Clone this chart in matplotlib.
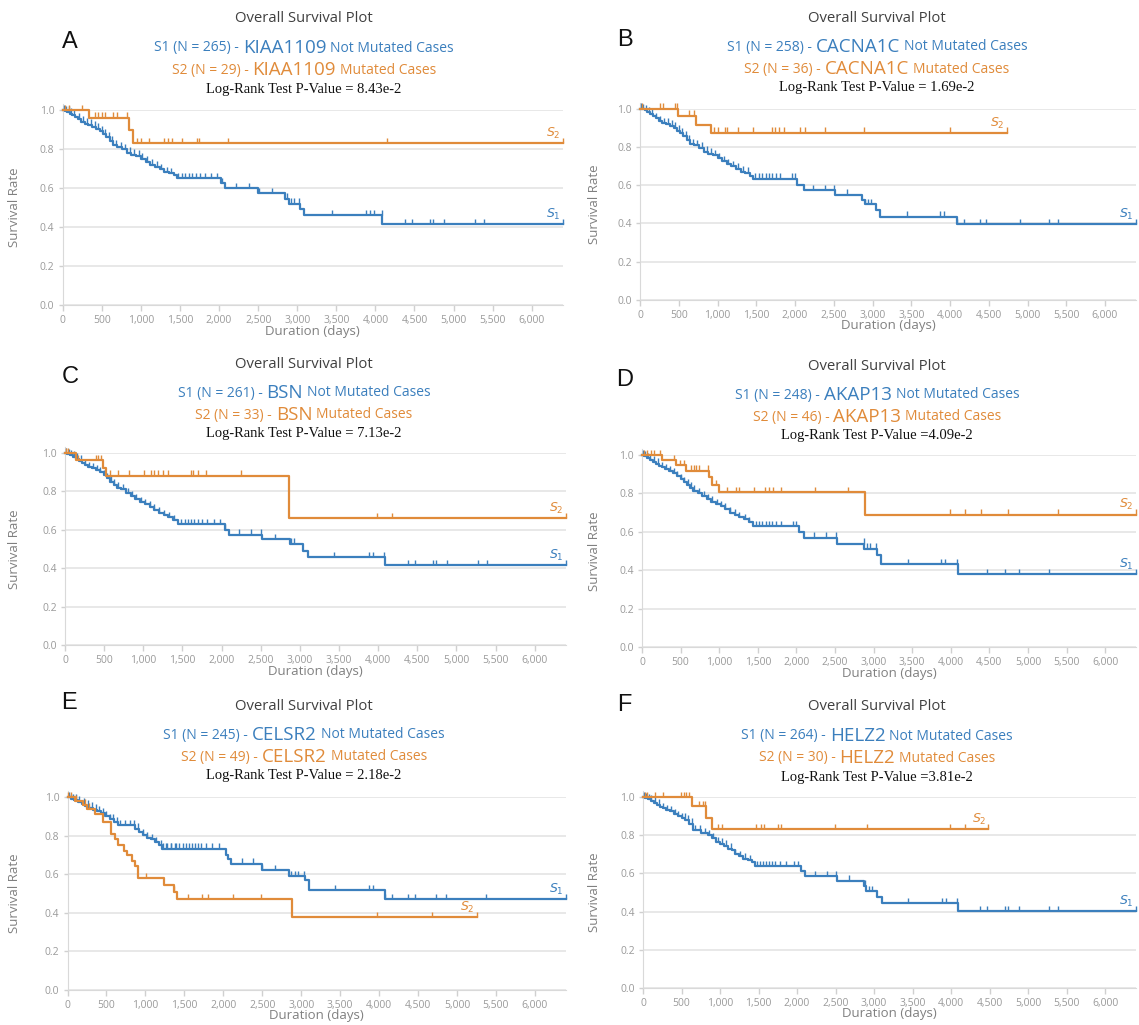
import matplotlib
matplotlib.use("Agg")
import matplotlib.pyplot as plt
import numpy as np

W, H = 1139, 1025
BLUE = "#3b7fbd"
ORANGE = "#e08b3a"
SANS = ["Open Sans", "DejaVu Sans"]

# ---------------- data ----------------
letters = ["A", "B", "C", "D", "E", "F"]
genes = ["KIAA1109", "CACNA1C", "BSN", "AKAP13", "CELSR2", "HELZ2"]
n_s1 = [265, 258, 261, 248, 245, 264]
n_s2 = [29, 36, 33, 46, 49, 30]
pvals = ["= 8.43e-2", "= 1.69e-2", "= 7.13e-2", "=4.09e-2", "= 2.18e-2", "=3.81e-2"]
x_ticks = [0, 500, 1000, 1500, 2000, 2500, 3000, 3500, 4000, 4500, 5000, 5500, 6000]
y_ticks = [0.0, 0.2, 0.4, 0.6, 0.8, 1.0]

early_cens = [15, 45, 75, 110, 150, 210, 260, 310, 360, 410, 450, 500, 540, 590, 630,
              680, 740, 800, 860, 910, 970, 1020, 1080, 1140, 1200, 1260, 1330, 1390]

A_s1_t = [0, 30, 60, 90, 120, 160, 200, 240, 280, 330, 380, 430, 480, 520, 560, 600, 640, 700, 760,
          820, 880, 940, 1000, 1060, 1120, 1180, 1240, 1300, 1360, 1420, 1460, 2030, 2080, 2500,
          2850, 2890, 3030, 3090, 4090]
A_s1_s = [1.0, 0.995, 0.99, 0.98, 0.975, 0.965, 0.955, 0.94, 0.93, 0.925, 0.915, 0.905, 0.89, 0.875,
          0.86, 0.84, 0.82, 0.81, 0.80, 0.78, 0.77, 0.765, 0.75, 0.735, 0.72, 0.71, 0.695, 0.68, 0.675,
          0.665, 0.65, 0.625, 0.598, 0.573, 0.545, 0.52, 0.49, 0.46, 0.415]
A_s1_end = 6400
A_s1_cens = early_cens + [1480, 1530, 1570, 1610, 1650, 1700, 1750, 1820, 1900, 1980, 2040, 2220, 2380,
                          2510, 2680, 2870, 2920, 2960, 3020, 3440, 3880, 3930, 3980, 4080, 4380, 4470,
                          4700, 4740, 4880, 5270, 5390, 6400]
A_s2_t = [0, 342, 851, 902]
A_s2_s = [1.0, 0.96, 0.90, 0.83]
A_s2_end = 6400
A_s2_cens = [30, 80, 250, 410, 455, 500, 540, 640, 690, 820, 950, 1000, 1100, 1300, 1350, 1400,
             1530, 1720, 1745, 2115, 4150, 6400]

B_s1_t = [0, 30, 60, 90, 130, 170, 210, 250, 290, 340, 390, 440, 480, 520, 560, 600, 640, 700, 760,
          820, 880, 940, 1000, 1060, 1120, 1180, 1240, 1300, 1360, 1420, 1460, 2030, 2110, 2520,
          2860, 2900, 3040, 3095, 4090]
B_s1_s = [1.0, 0.995, 0.99, 0.98, 0.97, 0.96, 0.95, 0.935, 0.925, 0.92, 0.91, 0.90, 0.885, 0.87,
          0.855, 0.835, 0.815, 0.81, 0.795, 0.775, 0.765, 0.755, 0.74, 0.725, 0.71, 0.70, 0.685, 0.67,
          0.665, 0.65, 0.633, 0.60, 0.575, 0.55, 0.52, 0.50, 0.47, 0.435, 0.395]
B_s1_end = 6400
B_s1_cens = early_cens + [1480, 1530, 1575, 1620, 1660, 1700, 1750, 1800, 1960, 2000, 2226, 2390,
                          2508, 2672, 2906, 2940, 2980, 3445, 3867, 3923, 4092, 4181, 4383, 4467,
                          4898, 5273, 5390, 6400]
B_s2_t = [0, 492, 717, 914]
B_s2_s = [1.0, 0.963, 0.916, 0.873]
B_s2_end = 4734
B_s2_cens = [23, 258, 295, 455, 483, 633, 703, 961, 1008, 1102, 1125, 1265, 1453, 1702, 1748, 1795,
             1852, 2063, 2123, 2391, 2892, 3998, 4734]

C_s1_t = [0, 30, 60, 100, 140, 180, 220, 260, 300, 350, 400, 450, 500, 540, 580, 620, 660, 720, 780,
          840, 900, 960, 1020, 1080, 1140, 1200, 1260, 1320, 1380, 1440, 2040, 2100, 2520, 2880,
          3040, 3100, 4090]
C_s1_s = [1.0, 0.995, 0.99, 0.98, 0.97, 0.96, 0.95, 0.935, 0.925, 0.92, 0.91, 0.90, 0.885, 0.87,
          0.85, 0.835, 0.82, 0.81, 0.79, 0.775, 0.76, 0.745, 0.735, 0.72, 0.705, 0.69, 0.675, 0.665,
          0.65, 0.63, 0.60, 0.575, 0.55, 0.527, 0.49, 0.457, 0.417]
C_s1_end = 6400
C_s1_cens = early_cens + [1480, 1530, 1570, 1610, 1650, 1700, 1750, 1820, 1900, 1980, 2040, 2220,
                          2380, 2510, 2680, 2890, 2930, 3440, 3880, 3930, 4080, 4380, 4470, 4700,
                          4740, 4880, 5270, 5390, 6400]
C_s2_t = [0, 141, 484, 521, 2864]
C_s2_s = [1.0, 0.962, 0.92, 0.882, 0.661]
C_s2_end = 6400
C_s2_cens = [14, 38, 164, 390, 427, 460, 577, 681, 812, 1014, 1094, 1131, 1188, 1258, 1319, 1610,
             1634, 1704, 1798, 2244, 3991, 4183, 6400]

D_s1_t = [0, 30, 60, 100, 140, 180, 220, 260, 300, 350, 400, 450, 500, 540, 580, 620, 660, 720, 780,
          840, 900, 960, 1020, 1080, 1140, 1200, 1260, 1320, 1380, 1440, 2040, 2100, 2520, 2880,
          3040, 3100, 4090]
D_s1_s = [1.0, 0.995, 0.985, 0.975, 0.965, 0.955, 0.945, 0.935, 0.925, 0.915, 0.905, 0.89, 0.875,
          0.86, 0.845, 0.83, 0.815, 0.80, 0.785, 0.77, 0.757, 0.745, 0.735, 0.72, 0.70, 0.69, 0.675,
          0.665, 0.65, 0.63, 0.60, 0.57, 0.539, 0.513, 0.48, 0.431, 0.379]
D_s1_end = 6400
D_s1_cens = early_cens + [1480, 1520, 1560, 1610, 1650, 1690, 1740, 1800, 1960, 2000, 2230, 2390,
                          2510, 2870, 2920, 2960, 3030, 3440, 3880, 3930, 4080, 4470, 4700, 4880,
                          5270, 6400]
D_s2_t = [0, 257, 445, 576, 866, 913, 997, 2892]
D_s2_s = [1.0, 0.974, 0.948, 0.918, 0.883, 0.843, 0.805, 0.69]
D_s2_end = 6400
D_s2_cens = [23, 61, 117, 150, 234, 421, 491, 538, 632, 669, 702, 739, 856, 959, 1100, 1217, 1254,
             1451, 1591, 1640, 1700, 1800, 2246, 2668, 3990, 4180, 4390, 4740, 5390, 6400]

E_s1_t = [0, 40, 80, 130, 180, 230, 280, 330, 380, 430, 480, 540, 600, 650, 870, 920, 970, 1020,
          1070, 1120, 1170, 1210, 2030, 2060, 2100, 2500, 2850, 3050, 3095, 4075]
E_s1_s = [1.0, 0.99, 0.985, 0.975, 0.965, 0.955, 0.945, 0.935, 0.925, 0.915, 0.90, 0.885, 0.87,
          0.853, 0.835, 0.82, 0.805, 0.79, 0.78, 0.765, 0.75, 0.733, 0.70, 0.68, 0.655, 0.621, 0.59,
          0.57, 0.517, 0.469]
E_s1_end = 6400
E_s1_cens = early_cens + [1230, 1280, 1330, 1380, 1430, 1480, 1520, 1560, 1600, 1640, 1680, 1720,
                          1780, 1850, 1940, 2241, 2381, 2500, 2661, 2871, 2920, 2960, 3040, 3432,
                          3875, 3922, 4075, 4165, 4375, 4459, 4725, 4865, 5379, 6400]
E_s2_t = [0, 100, 200, 250, 350, 450, 560, 607, 654, 724, 770, 826, 873, 901, 910, 1237, 1368,
          1401, 2881]
E_s2_s = [1.0, 0.98, 0.96, 0.94, 0.914, 0.871, 0.81, 0.78, 0.75, 0.72, 0.70, 0.67, 0.645, 0.61,
          0.578, 0.543, 0.51, 0.471, 0.376]
E_s2_end = 5253
E_s2_cens = [10, 45, 115, 220, 270, 1004, 1368, 1541, 1728, 1798, 2124, 2489, 3978, 4683, 5253]

F_s1_t = [0, 30, 60, 100, 140, 180, 220, 260, 300, 350, 400, 450, 500, 550, 600, 650, 750, 850,
          900, 950, 1000, 1050, 1100, 1150, 1200, 1250, 1300, 1360, 1420, 1460, 2050, 2100, 2520,
          2870, 2900, 3040, 3100, 4090]
F_s1_s = [1.0, 0.995, 0.99, 0.98, 0.97, 0.96, 0.95, 0.94, 0.93, 0.925, 0.91, 0.90, 0.89, 0.878,
          0.86, 0.826, 0.81, 0.80, 0.785, 0.765, 0.755, 0.745, 0.73, 0.72, 0.70, 0.69, 0.678, 0.67,
          0.66, 0.638, 0.61, 0.586, 0.562, 0.535, 0.508, 0.475, 0.443, 0.403]
F_s1_end = 6400
F_s1_cens = early_cens + [1480, 1520, 1560, 1600, 1640, 1680, 1720, 1780, 1850, 1960, 2010, 2230,
                          2390, 2510, 2680, 2880, 2930, 2970, 3440, 3880, 3930, 4080, 4380, 4470,
                          4700, 4740, 4880, 5270, 5390, 6400]
F_s2_t = [0, 634, 822, 892]
F_s2_s = [1.0, 0.951, 0.892, 0.831]
F_s2_end = 4484
F_s2_cens = [23, 47, 150, 258, 493, 526, 563, 601, 728, 775, 808, 977, 1023, 1465, 1526, 1573,
             1747, 1794, 2498, 2911, 3991, 4179, 4484]

# ---------------- layout (pixels) ----------------
# axes boxes: left, right, top(1.0), bottom(0.0)
boxes = [(62.7, 563, 110, 305), (640, 1136, 108.5, 300),
         (65, 566, 453, 645), (642, 1136, 455, 647),
         (67.5, 566, 797, 990), (643, 1136, 797, 988)]
title_xc = [304, 877, 304, 877, 304, 877]
title_y = [19, 18, 364, 366, 706, 707]   # center of "Overall Survival Plot"
letter_pos = [(70, 42), (625, 40), (70, 377), (625, 380), (69, 703), (624, 705)]

series = [
    (A_s1_t, A_s1_s, A_s1_end, A_s1_cens, A_s2_t, A_s2_s, A_s2_end, A_s2_cens),
    (B_s1_t, B_s1_s, B_s1_end, B_s1_cens, B_s2_t, B_s2_s, B_s2_end, B_s2_cens),
    (C_s1_t, C_s1_s, C_s1_end, C_s1_cens, C_s2_t, C_s2_s, C_s2_end, C_s2_cens),
    (D_s1_t, D_s1_s, D_s1_end, D_s1_cens, D_s2_t, D_s2_s, D_s2_end, D_s2_cens),
    (E_s1_t, E_s1_s, E_s1_end, E_s1_cens, E_s2_t, E_s2_s, E_s2_end, E_s2_cens),
    (F_s1_t, F_s1_s, F_s1_end, F_s1_cens, F_s2_t, F_s2_s, F_s2_end, F_s2_cens),
]

fig = plt.figure(figsize=(W / 100, H / 100), dpi=100)
fig.patch.set_facecolor("white")
renderer = fig.canvas.get_renderer()


def rich_line(xc, yc, parts, gap=4.0):
    texts = []
    for s, size, col in parts:
        t = fig.text(0, 1 - yc / H, s, fontsize=size, color=col, family=SANS,
                     ha="left", va="center_baseline")
        texts.append(t)
    widths = [t.get_window_extent(renderer).width for t in texts]
    total = sum(widths) + gap * (len(texts) - 1)
    x = xc - total / 2
    for t, w in zip(texts, widths):
        t.set_x(x / W)
        x += w + gap


def draw_km(ax, t, s, end, cens, color):
    tt = np.array(list(t) + [end], dtype=float)
    ss = np.array(list(s) + [s[-1]], dtype=float)
    ax.step(tt, ss, where="post", color=color, lw=1.6, zorder=3, clip_on=False)
    ct = np.array(cens, dtype=float)
    idx = np.searchsorted(np.array(t, dtype=float), ct, side="right") - 1
    cs = np.array(s)[idx]
    ax.vlines(ct, cs, cs + 0.028, color=color, lw=1.0, zorder=3, clip_on=False)


for i in range(6):
    l, r, top, bot = boxes[i]
    ax = fig.add_axes([l / W, 1 - bot / H, (r - l) / W, (bot - top) / H])
    s1t, s1s, s1e, s1c, s2t, s2s, s2e, s2c = series[i]
    draw_km(ax, s1t, s1s, s1e, s1c, BLUE)
    draw_km(ax, s2t, s2s, s2e, s2c, ORANGE)
    ax.text(s1e - 30, s1s[-1] + 0.012, r"$S_1$", color=BLUE, fontsize=9, ha="right", va="bottom")
    ax.text(s2e - 30, s2s[-1] + 0.012, r"$S_2$", color=ORANGE, fontsize=9, ha="right", va="bottom")

    ax.set_xlim(0, 6400)
    ax.set_ylim(0, 1.0)
    ax.set_xticks(x_ticks)
    ax.set_xticklabels([f"{v:,}" for v in x_ticks])
    ax.set_yticks(y_ticks)
    ax.set_yticklabels([f"{v:.1f}" for v in y_ticks])
    ax.grid(axis="y", color="#e4e4e4", lw=1.2)
    ax.set_axisbelow(True)
    for side in ["top", "right"]:
        ax.spines[side].set_visible(False)
    ax.spines["left"].set_color("#d9d9d9")
    ax.spines["bottom"].set_color("#d9d9d9")
    ax.spines["left"].set_bounds(0, 1.03)
    ax.tick_params(axis="x", colors="#d0d0d0", labelcolor="#9a9a9a", length=4, width=1,
                   labelsize=7.5, pad=3)
    ax.tick_params(axis="y", colors="#d0d0d0", labelcolor="#9a9a9a", length=3, width=1,
                   labelsize=7.5, pad=3)
    for lab in ax.get_xticklabels() + ax.get_yticklabels():
        lab.set_family(SANS)
    ax.set_xlabel("Duration (days)", fontsize=9.5, color="#808080", family=SANS)
    ax.xaxis.set_label_coords(0.5, -26 / (bot - top))
    ax.xaxis.label.set_va("center")
    ax.set_ylabel("Survival Rate", fontsize=9.5, color="#808080", family=SANS)
    ax.yaxis.set_label_coords(-(l - (15 if i % 2 == 0 else 595)) / (r - l), 0.5)
    ax.yaxis.label.set_va("center")

    # header texts
    xc = title_xc[i]
    ty = title_y[i]
    fig.text(xc / W, 1 - ty / H, "Overall Survival Plot", fontsize=10.7, color="#404040",
             family=SANS, ha="center", va="center")
    rich_line(xc, ty + 27, [(f"S1 (N = {n_s1[i]}) -", 10, BLUE), (genes[i], 13.5, BLUE),
                            ("Not Mutated Cases", 10, BLUE)])
    rich_line(xc, ty + 49, [(f"S2 (N = {n_s2[i]}) -", 10, ORANGE), (genes[i], 13.5, ORANGE),
                            ("Mutated Cases", 10, ORANGE)])
    fig.text(xc / W, 1 - (ty + 70) / H, "Log-Rank Test P-Value " + pvals[i], fontsize=10.5,
             color="#111111", family=["Liberation Serif", "DejaVu Serif"], ha="center",
             va="center")
    lx, ly = letter_pos[i]
    fig.text(lx / W, 1 - ly / H, letters[i], fontsize=17, color="#111111",
             family=["Liberation Sans", "DejaVu Sans"], ha="center", va="center")

fig.savefig("out.png", dpi=100, facecolor="white")
